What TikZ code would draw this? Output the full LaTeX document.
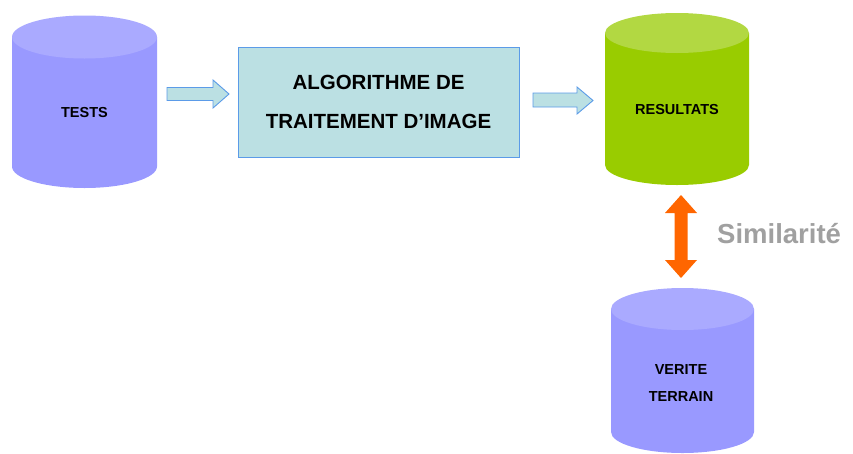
\documentclass[tikz,border=0pt]{standalone}
\usepackage{fontspec}
\setmainfont{Liberation Sans}
\definecolor{cylblue}{HTML}{9999FF}
\definecolor{cylbluetop}{HTML}{AAAAFF}
\definecolor{cylgreen}{HTML}{99CC00}
\definecolor{cylgreentop}{HTML}{B2D842}
\definecolor{boxfill}{HTML}{BBE0E3}
\definecolor{boxline}{HTML}{5B9BE8}
\definecolor{orangearrow}{HTML}{FF6600}
\definecolor{simgray}{HTML}{A0A0A0}
\tikzset{
  lbl/.style={font=\bfseries\fontsize{14.5}{27}\selectfont, align=center, text=black},
  blockarrow/.style={fill=boxfill, draw=boxline, line width=0.9pt, line join=miter},
}
\begin{document}
\begin{tikzpicture}[x=1pt,y=-1pt]
\useasboundingbox (0,0) rectangle (853,453);
% TESTS cylinder
\fill[cylblue] (12,37) -- (12,166.5) arc[start angle=180,end angle=0,x radius=72.5,y radius=21.5] -- (157,37) -- cycle;
\fill[cylbluetop] (84.5,37) ellipse[x radius=72.5,y radius=21.5];
\node[lbl] (tests) at (84.5,113) {TESTS};
% RESULTATS cylinder
\fill[cylgreen] (605,33) -- (605,165) arc[start angle=180,end angle=0,x radius=72,y radius=20] -- (749,33) -- cycle;
\fill[cylgreentop] (677,33) ellipse[x radius=72,y radius=20];
\node[lbl] (res) at (677,110) {RESULTATS};
% VERITE TERRAIN cylinder
\fill[cylblue] (611,309) -- (611,432) arc[start angle=180,end angle=0,x radius=71.5,y radius=21] -- (754,309) -- cycle;
\fill[cylbluetop] (682.5,309) ellipse[x radius=71.5,y radius=21];
\node[lbl] (vt) at (681,383.5) {VERITE\\TERRAIN};
% algorithm box
\node[draw=boxline, fill=boxfill, line width=0.9pt, minimum width=281pt, minimum height=110pt,
      font=\bfseries\fontsize{20.5}{39}\selectfont, align=center] (algo) at (378.5,102) {ALGORITHME DE\\TRAITEMENT D’IMAGE};
% block arrows
\draw[blockarrow] (167,87.5) -- (213,87.5) -- (213,80) -- (229,94) -- (213,108) -- (213,100.5) -- (167,100.5) -- cycle;
\draw[blockarrow] (533,93) -- (577,93) -- (577,87) -- (593,100.5) -- (577,114) -- (577,107) -- (533,107) -- cycle;
% double arrow
\fill[orangearrow] (681,195) -- (697,213) -- (687.5,213) -- (687.5,260) -- (697,260) -- (681,278) -- (665,260) -- (674.5,260) -- (674.5,213) -- (665,213) -- cycle;
\node[font=\bfseries\fontsize{27.5}{31}\selectfont, text=simgray, anchor=west, inner sep=0pt] (sim) at (717,234) {Similarité};
\end{tikzpicture}
\end{document}
